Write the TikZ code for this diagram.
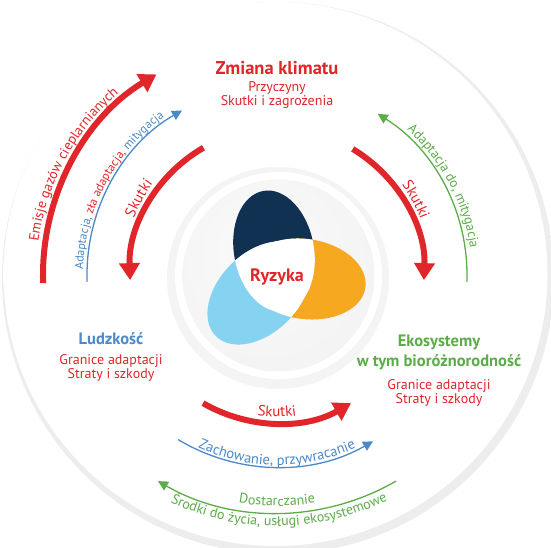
\documentclass[tikz,border=0pt]{standalone}
\usepackage{fontspec}
\setmainfont{PT Sans}
\usetikzlibrary{arrows.meta,decorations.text,positioning}

\definecolor{ipccred}{RGB}{224,38,42}
\definecolor{ipccblue}{RGB}{74,137,202}
\definecolor{ipccgreen}{RGB}{92,172,72}
\definecolor{petalnavy}{RGB}{17,49,82}
\definecolor{petalorange}{RGB}{246,168,32}
\definecolor{petalsky}{RGB}{134,210,241}

\pgfdeclareradialshading{outerdisc}{\pgfpoint{0bp}{0bp}}{color(0bp)=(white); color(24bp)=(white); color(44bp)=(gray!8); color(50bp)=(gray!12)}
\pgfdeclareradialshading{outershadow}{\pgfpoint{0bp}{0bp}}{color(0bp)=(gray!14); color(46bp)=(gray!14); color(50bp)=(white)}
\pgfdeclareradialshading{innerdisc}{\pgfpoint{-6bp}{8bp}}{color(0bp)=(white!96!gray); color(30bp)=(gray!9); color(50bp)=(gray!22)}
\pgfdeclareradialshading{discshadow}{\pgfpoint{0bp}{0bp}}{color(0bp)=(gray!10); color(45bp)=(gray!8); color(50bp)=(white)}

% font and colour of the texts that follow the arcs
\newcommand{\arcfont}[2]{\fontsize{#1}{#1}\selectfont\color{#2}}

\begin{document}
\begin{tikzpicture}[x=1pt, y=1pt,
    redarrow/.style={ipccred, line width=6pt, -{Triangle[width=20pt, length=17pt]}},
    thinarrow/.style={line width=1.3pt, -{Triangle[width=10pt, length=10pt]}},
    petal/.style={x radius=61, y radius=40},
    navypos/.style={shift={(-3,24)}, rotate=100},
    orangepos/.style={shift={(28,-4)}, rotate=-8},
    skypos/.style={shift={(-18,-18)}, rotate=225},
    heading/.style={font=\fontsize{16.5}{19.5}\selectfont\bfseries, align=center, inner sep=0pt},
    detail/.style={ipccred, font=\fontsize{14}{14}\selectfont, align=center, inner sep=0pt},
    arclabel/.style={decorate, decoration={text along path, text align=center, text={#1}}}
]
    \useasboundingbox (-277,-273) rectangle (274,275);

    % discs
    \shade[shading=outershadow] (1,-3) circle (276);
    \shade[shading=outerdisc] (-1.5,1) circle (272);
    \shade[shading=discshadow] (1,-3) circle (111);
    \fill[white] (1.5,-0.5) circle (103.5);
    \shade[shading=innerdisc] (1.5,-0.5) circle (96);

    % petals
    \fill[petalnavy, navypos, petal] (0,0) ellipse;
    \begin{scope}
        \clip[orangepos, petal] (0,0) ellipse;
        \shade[orangepos, left color=petalorange!78!black, right color=petalorange] (-40,-45) rectangle (-5,45);
        \fill[petalorange, orangepos] (-5,-45) rectangle (70,45);
    \end{scope}
    \fill[petalsky, skypos, petal] (0,0) ellipse;
    \begin{scope}
        \clip[navypos, petal] (0,0) ellipse;
        \fill[white, orangepos, petal] (0,0) ellipse;
        \fill[white, skypos, petal] (0,0) ellipse;
    \end{scope}
    \begin{scope}
        \clip[orangepos, petal] (0,0) ellipse;
        \fill[white, skypos, petal] (0,0) ellipse;
    \end{scope}
    \node[ipccred, font=\fontsize{18}{20}\selectfont\bfseries] (ryzyka) at (0,-2) {Ryzyka};

    % the three labels
    \node[heading, ipccred, font=\fontsize{18.5}{20}\selectfont\bfseries, anchor=north] (klimat) at (0,214) {Zmiana klimatu};
    \node[detail, below=7pt of klimat] (klimatdetail) {Przyczyny\\Skutki i zagrożenia};
    \node[heading, ipccblue, anchor=north] (ludzkosc) at (-166,-57) {Ludzkość};
    \node[detail, below=10pt of ludzkosc] (ludzkoscdetail) {Granice adaptacji\\Straty i szkody};
    \node[heading, ipccgreen, anchor=north] (ekosystemy) at (162,-60) {Ekosystemy\\w tym bioróżnorodność};
    \node[detail, below=9pt of ekosystemy] (ekosystemydetail) {Granice adaptacji\\Straty i szkody};

    % left arcs
    \draw[redarrow] (182:234) arc[start angle=182, end angle=121, radius=234];
    \path[arclabel={|\arcfont{14}{ipccred}|Emisje gazów cieplarnianych}] (182:241) arc[start angle=182, end angle=121, radius=241];
    \draw[thinarrow, ipccblue] (182:190) arc[start angle=182, end angle=120, radius=190];
    \path[arclabel={|\arcfont{12}{ipccblue}|Adaptacja, |\arcfont{12}{ipccred}|zła adaptacja, |\arcfont{12}{ipccblue}|mitygacja}] (182:194) arc[start angle=182, end angle=122, radius=194];
    \draw[redarrow] (120:147) arc[start angle=120, end angle=182, radius=147];
    \path[arclabel={|\arcfont{15}{ipccred}|Skutki}] (182:154) arc[start angle=182, end angle=120, radius=154];

    % right arcs
    \draw[redarrow] (59:147) arc[start angle=59, end angle=-2, radius=147];
    \path[arclabel={|\arcfont{15}{ipccred}|Skutki}] (59:154) arc[start angle=59, end angle=-2, radius=154];
    \draw[thinarrow, ipccgreen] (-2:190) arc[start angle=-2, end angle=58, radius=190];
    \path[arclabel={|\arcfont{13.5}{ipccgreen}|Adaptacja do, mitygacja}] (58:195) arc[start angle=58, end angle=-2, radius=195];

    % bottom arcs
    \draw[redarrow] (240:148) arc[start angle=240, end angle=300, radius=148];
    \path[arclabel={|\arcfont{15}{ipccred}|Skutki}] (240:142) arc[start angle=240, end angle=300, radius=142];
    \draw[thinarrow, ipccblue] (239:192) arc[start angle=239, end angle=300, radius=192];
    \path[arclabel={|\arcfont{14.5}{ipccblue}|Zachowanie, przywracanie}] (239:190) arc[start angle=239, end angle=301, radius=190];
    \draw[thinarrow, ipccgreen] (300:238) arc[start angle=300, end angle=240, radius=238];
    \path[arclabel={|\arcfont{14}{ipccgreen}|Dostarczanie}] (240:231) arc[start angle=240, end angle=300, radius=231];
    \path[arclabel={|\arcfont{14}{ipccgreen}|Środki do życia, usługi ekosystemowe}] (236:251) arc[start angle=236, end angle=305, radius=251];
\end{tikzpicture}
\end{document}
